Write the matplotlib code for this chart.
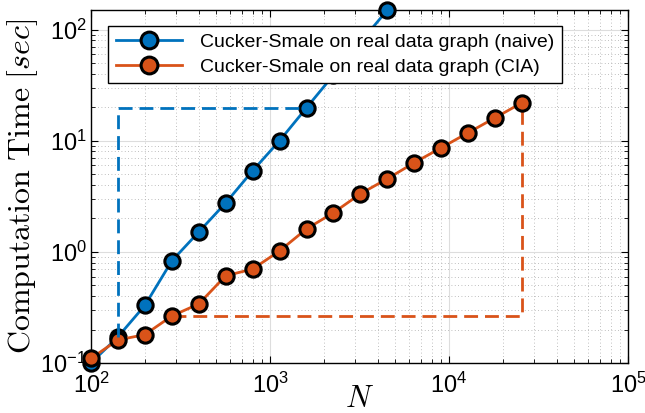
import numpy as np
import matplotlib
matplotlib.use('Agg')
import matplotlib.pyplot as plt
from matplotlib.ticker import LogLocator, FuncFormatter, NullFormatter

plt.rcParams['font.family'] = ['Liberation Sans', 'DejaVu Sans']

# problem sizes and timings
n_naive = [100, 141, 200, 283, 400, 566, 800, 1131, 1600, 2263, 3200, 4525]
t_naive = [0.100, 0.171, 0.33, 0.83, 1.51, 2.76, 5.37, 10.0, 19.8, 39.0, 77.0, 150.0]
n_cia = [100, 141, 200, 283, 400, 566, 800, 1131, 1600, 2263, 3200, 4525,
         6400, 9051, 12800, 18102, 25600]
t_cia = [0.110, 0.161, 0.180, 0.265, 0.34, 0.61, 0.70, 1.02, 1.61, 2.25, 3.33, 4.55,
         6.34, 8.65, 11.8, 16.1, 22.0]

# guide lines
guide_naive_n = [141, 141, 1600]
guide_naive_t = [0.171, 19.8, 19.8]
guide_cia_n = [283, 25600, 25600]
guide_cia_t = [0.265, 0.265, 22.0]

blue = '#0072BD'
orange = '#D95319'

fig = plt.figure(figsize=(6.45, 4.13), dpi=100)
ax = fig.add_axes([91/645, 50/413, 537/645, 353/413])

ax.plot(n_naive, t_naive, '-o', color=blue, lw=2, ms=11, mfc=blue, mec='k', mew=2.2,
        clip_on=False, zorder=3, label='Cucker-Smale on real data graph (naive)')
ax.plot(n_cia, t_cia, '-o', color=orange, lw=2, ms=11, mfc=orange, mec='k', mew=2.2,
        clip_on=False, zorder=3, label='Cucker-Smale on real data graph (CIA)')
ax.plot(guide_naive_n, guide_naive_t, '--', color=blue, lw=2, dashes=(5, 2.5), zorder=4)
ax.plot(guide_cia_n, guide_cia_t, '--', color=orange, lw=2, dashes=(5, 2.5), zorder=2)

ax.set_xscale('log')
ax.set_yscale('log')
ax.set_xlim(1e2, 1e5)
ax.set_ylim(1e-1, 150)

fmt = FuncFormatter(lambda v, p: r'$\mathdefault{10^{%d}}$' % int(round(np.log10(v))))
ax.xaxis.set_major_formatter(fmt)
ax.yaxis.set_major_formatter(fmt)
ax.xaxis.set_minor_locator(LogLocator(base=10, subs=np.arange(2, 10)))
ax.yaxis.set_minor_locator(LogLocator(base=10, subs=np.arange(2, 10)))
ax.xaxis.set_minor_formatter(NullFormatter())
ax.yaxis.set_minor_formatter(NullFormatter())

ax.tick_params(which='both', direction='in', top=True, right=True, labelsize=17)
ax.tick_params(which='major', length=5, width=0.8)
ax.tick_params(which='minor', length=3, width=0.6)
ax.tick_params(axis='x', pad=7)
ax.tick_params(axis='y', pad=3)

ax.grid(which='major', color='#dddddd', lw=0.8)
ax.grid(which='minor', color='#aaaaaa', lw=0.6, ls=(0, (1, 3)))
ax.set_axisbelow(True)
for s in ax.spines.values():
    s.set_linewidth(1.0)

ax.set_ylabel(r'$\mathrm{Computation\ Time}\ [sec]$', fontsize=23,
              math_fontfamily='cm', labelpad=0)
ax.set_xlabel(r'$N$', fontsize=22, math_fontfamily='cm', labelpad=-10)

leg = ax.legend(loc='upper left', bbox_to_anchor=(0.032, 0.955), borderaxespad=0,
                fontsize=14, fancybox=False, edgecolor='k', framealpha=1,
                handlelength=3.4, handletextpad=0.9, borderpad=0.4, labelspacing=0.35,
                markerscale=1.1)
leg.get_frame().set_linewidth(1.0)
leg.set_zorder(5)

fig.savefig('out.png', dpi=100)
